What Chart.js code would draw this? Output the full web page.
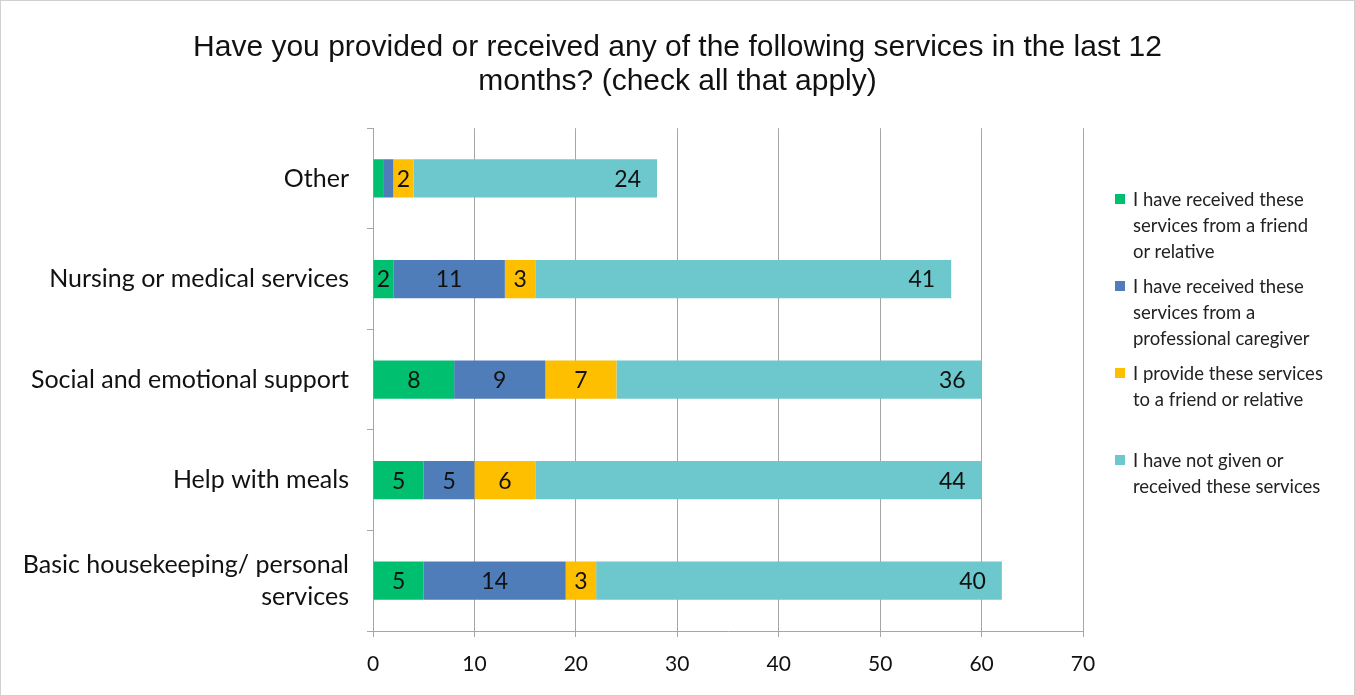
<!DOCTYPE html>
<html>
<head>
<meta charset="utf-8">
<script src="https://cdn.jsdelivr.net/npm/chart.js@4.4.1/dist/chart.umd.min.js"></script>
<style>
  body { margin: 0; background: #fff; }
  .chart-container {
    position: relative; width: 1355px; height: 696px;
    border: 1px solid #d0d0d0; box-sizing: border-box;
  }
  #legend { position: absolute; left: 1114px; top: 0; font-family: Lato, sans-serif; font-size: 18.5px; color: #222; }
  .item { position: absolute; left: 0; width: 194px; line-height: 26px; padding-left: 18px; }
  .sw { position: absolute; left: 0; top: 8px; width: 10px; height: 10px; }
</style>
</head>
<body>
<div class="chart-container">
  <canvas id="servicesChart" width="1353" height="694"></canvas>
  <div id="legend"></div>
</div>
<script>
  const categories = [
    "Other",
    "Nursing or medical services",
    "Social and emotional support",
    "Help with meals",
    ["Basic housekeeping/ personal", "services"],
  ];
  const seriesNames = [
    "I have received these services from a friend or relative",
    "I have received these services from a professional caregiver",
    "I provide these services to a friend or relative",
    "I have not given or received these services",
  ];
  const fromFriend = [1, 2, 8, 5, 5];
  const fromProfessional = [1, 11, 9, 5, 14];
  const provideToFriend = [2, 3, 7, 6, 3];
  const notGivenOrReceived = [24, 41, 36, 44, 40];
  const xTicks = [0, 10, 20, 30, 40, 50, 60, 70];

  const colors = ["#00bf6f", "#4f7dba", "#fdbf00", "#6cc8cc"];
  const fontFamily = "Lato, sans-serif";

  // value labels: first three series centred, last one at the inside end
  const barLabels = {
    id: "barLabels",
    afterDatasetsDraw(chart) {
      const ctx = chart.ctx;
      ctx.save();
      ctx.font = "23px " + fontFamily;
      ctx.fillStyle = "#111";
      ctx.textBaseline = "middle";
      chart.data.datasets.forEach((ds, i) => {
        const meta = chart.getDatasetMeta(i);
        meta.data.forEach((bar, j) => {
          const v = ds.data[j];
          if (v < 2) return;
          if (i === 3) {
            ctx.textAlign = "right";
            ctx.fillText(v, bar.x - 16, bar.y + 1);
          } else {
            ctx.textAlign = "center";
            ctx.fillText(v, (bar.x + bar.base) / 2, bar.y + 1);
          }
        });
      });
      ctx.restore();
    },
  };

  const ctx = document.getElementById("servicesChart").getContext("2d");
  const myChart = new Chart(ctx, {
    type: "bar",
    data: {
      labels: categories,
      datasets: [fromFriend, fromProfessional, provideToFriend, notGivenOrReceived].map((d, i) => ({
        label: seriesNames[i],
        data: d,
        backgroundColor: colors[i],
        borderWidth: 0,
        categoryPercentage: 1,
        barPercentage: 0.38,
      })),
    },
    options: {
      indexAxis: "y",
      responsive: false,
      animation: false,
      layout: { padding: 0 },
      plugins: {
        legend: { display: false },
        tooltip: { enabled: false },
        title: {
          display: true,
          text: [
            "Have you provided or received any of the following services in the last 12",
            "months? (check all that apply)",
          ],
          color: "#111",
          font: { family: "'Liberation Sans', Arial, sans-serif", size: 30, weight: "normal", lineHeight: 1.12 },
          padding: { top: 30, bottom: 30 },
          align: "center",
        },
      },
      scales: {
        x: {
          stacked: true,
          min: 0,
          max: 70,
          afterBuildTicks: (scale) => { scale.ticks = xTicks.map((v) => ({ value: v })); },
          afterFit: (scale) => { scale.height = 64; },
          grid: { color: "#a6a6a6", lineWidth: 1, tickLength: 6, drawTicks: true },
          border: { color: "#a6a6a6" },
          ticks: { color: "#111", font: { family: fontFamily, size: 21 }, padding: 15, maxRotation: 0 },
        },
        y: {
          stacked: true,
          afterFit: (scale) => { scale.width = 372; },
          grid: { offset: true, drawOnChartArea: false, color: "#a6a6a6", tickLength: 6 },
          border: { color: "#a6a6a6" },
          ticks: { color: "#111", font: { family: fontFamily, size: 25, lineHeight: 1.28 }, padding: 18 },
        },
        // empty axis on the right keeps room for the legend while the title spans the full width
        legendSpace: {
          axis: "y",
          position: "right",
          afterFit: (scale) => { scale.width = 271; },
          grid: { display: false },
          border: { display: false },
          ticks: { display: false },
        },
      },
    },
    plugins: [barLabels],
  });

  // legend on the right, built from the datasets
  const legendTops = [185, 272, 359, 446];
  const legend = document.getElementById("legend");
  myChart.data.datasets.forEach((ds, i) => {
    const item = document.createElement("div");
    item.className = "item";
    item.style.top = legendTops[i] + "px";
    item.innerHTML = '<span class="sw" style="background:' + ds.backgroundColor + '"></span>' + ds.label;
    legend.appendChild(item);
  });
</script>
</body>
</html>
